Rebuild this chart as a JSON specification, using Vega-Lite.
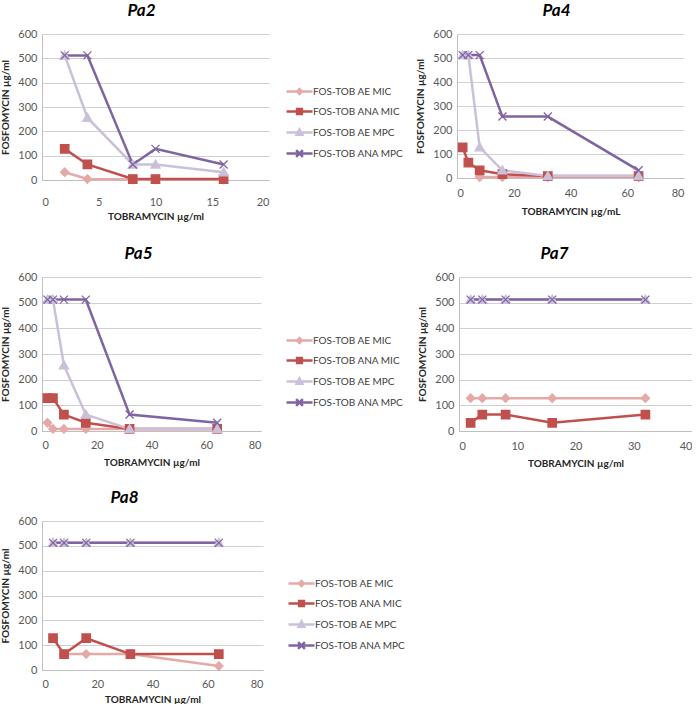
{
  "$schema": "https://vega.github.io/schema/vega-lite/v6.json",
  "padding": {"left": 0, "top": 2, "right": 0, "bottom": 0},
  "background": "white",
  "datasets": {
    "pa": [
      {"panel": "Pa2", "series": "FOS-TOB AE MIC", "tob": 2, "fos": 32},
      {"panel": "Pa2", "series": "FOS-TOB AE MIC", "tob": 4, "fos": 4},
      {"panel": "Pa2", "series": "FOS-TOB AE MIC", "tob": 8, "fos": 2},
      {"panel": "Pa2", "series": "FOS-TOB AE MIC", "tob": 10, "fos": 2},
      {"panel": "Pa2", "series": "FOS-TOB AE MIC", "tob": 16, "fos": 2},
      {"panel": "Pa2", "series": "FOS-TOB ANA MIC", "tob": 2, "fos": 128},
      {"panel": "Pa2", "series": "FOS-TOB ANA MIC", "tob": 4, "fos": 64},
      {"panel": "Pa2", "series": "FOS-TOB ANA MIC", "tob": 8, "fos": 4},
      {"panel": "Pa2", "series": "FOS-TOB ANA MIC", "tob": 10, "fos": 4},
      {"panel": "Pa2", "series": "FOS-TOB ANA MIC", "tob": 16, "fos": 4},
      {"panel": "Pa2", "series": "FOS-TOB AE MPC", "tob": 2, "fos": 512},
      {"panel": "Pa2", "series": "FOS-TOB AE MPC", "tob": 4, "fos": 256},
      {"panel": "Pa2", "series": "FOS-TOB AE MPC", "tob": 8, "fos": 64},
      {"panel": "Pa2", "series": "FOS-TOB AE MPC", "tob": 10, "fos": 64},
      {"panel": "Pa2", "series": "FOS-TOB AE MPC", "tob": 16, "fos": 32},
      {"panel": "Pa2", "series": "FOS-TOB ANA MPC", "tob": 2, "fos": 512},
      {"panel": "Pa2", "series": "FOS-TOB ANA MPC", "tob": 4, "fos": 512},
      {"panel": "Pa2", "series": "FOS-TOB ANA MPC", "tob": 8, "fos": 64},
      {"panel": "Pa2", "series": "FOS-TOB ANA MPC", "tob": 10, "fos": 128},
      {"panel": "Pa2", "series": "FOS-TOB ANA MPC", "tob": 16, "fos": 64},

      {"panel": "Pa4", "series": "FOS-TOB AE MIC", "tob": 8, "fos": 4},
      {"panel": "Pa4", "series": "FOS-TOB AE MIC", "tob": 16, "fos": 4},
      {"panel": "Pa4", "series": "FOS-TOB AE MIC", "tob": 32, "fos": 4},
      {"panel": "Pa4", "series": "FOS-TOB AE MIC", "tob": 64, "fos": 4},
      {"panel": "Pa4", "series": "FOS-TOB ANA MIC", "tob": 2, "fos": 128},
      {"panel": "Pa4", "series": "FOS-TOB ANA MIC", "tob": 4, "fos": 64},
      {"panel": "Pa4", "series": "FOS-TOB ANA MIC", "tob": 8, "fos": 32},
      {"panel": "Pa4", "series": "FOS-TOB ANA MIC", "tob": 16, "fos": 16},
      {"panel": "Pa4", "series": "FOS-TOB ANA MIC", "tob": 32, "fos": 8},
      {"panel": "Pa4", "series": "FOS-TOB ANA MIC", "tob": 64, "fos": 8},
      {"panel": "Pa4", "series": "FOS-TOB AE MPC", "tob": 2, "fos": 512},
      {"panel": "Pa4", "series": "FOS-TOB AE MPC", "tob": 4, "fos": 512},
      {"panel": "Pa4", "series": "FOS-TOB AE MPC", "tob": 8, "fos": 128},
      {"panel": "Pa4", "series": "FOS-TOB AE MPC", "tob": 16, "fos": 32},
      {"panel": "Pa4", "series": "FOS-TOB AE MPC", "tob": 32, "fos": 8},
      {"panel": "Pa4", "series": "FOS-TOB AE MPC", "tob": 64, "fos": 8},
      {"panel": "Pa4", "series": "FOS-TOB ANA MPC", "tob": 2, "fos": 512},
      {"panel": "Pa4", "series": "FOS-TOB ANA MPC", "tob": 4, "fos": 512},
      {"panel": "Pa4", "series": "FOS-TOB ANA MPC", "tob": 8, "fos": 512},
      {"panel": "Pa4", "series": "FOS-TOB ANA MPC", "tob": 16, "fos": 256},
      {"panel": "Pa4", "series": "FOS-TOB ANA MPC", "tob": 32, "fos": 256},
      {"panel": "Pa4", "series": "FOS-TOB ANA MPC", "tob": 64, "fos": 32},

      {"panel": "Pa5", "series": "FOS-TOB AE MIC", "tob": 2, "fos": 32},
      {"panel": "Pa5", "series": "FOS-TOB AE MIC", "tob": 4, "fos": 8},
      {"panel": "Pa5", "series": "FOS-TOB AE MIC", "tob": 8, "fos": 8},
      {"panel": "Pa5", "series": "FOS-TOB AE MIC", "tob": 16, "fos": 8},
      {"panel": "Pa5", "series": "FOS-TOB AE MIC", "tob": 32, "fos": 8},
      {"panel": "Pa5", "series": "FOS-TOB AE MIC", "tob": 64, "fos": 8},
      {"panel": "Pa5", "series": "FOS-TOB ANA MIC", "tob": 2, "fos": 128},
      {"panel": "Pa5", "series": "FOS-TOB ANA MIC", "tob": 4, "fos": 128},
      {"panel": "Pa5", "series": "FOS-TOB ANA MIC", "tob": 8, "fos": 64},
      {"panel": "Pa5", "series": "FOS-TOB ANA MIC", "tob": 16, "fos": 32},
      {"panel": "Pa5", "series": "FOS-TOB ANA MIC", "tob": 32, "fos": 8},
      {"panel": "Pa5", "series": "FOS-TOB ANA MIC", "tob": 64, "fos": 8},
      {"panel": "Pa5", "series": "FOS-TOB AE MPC", "tob": 2, "fos": 512},
      {"panel": "Pa5", "series": "FOS-TOB AE MPC", "tob": 4, "fos": 512},
      {"panel": "Pa5", "series": "FOS-TOB AE MPC", "tob": 8, "fos": 256},
      {"panel": "Pa5", "series": "FOS-TOB AE MPC", "tob": 16, "fos": 64},
      {"panel": "Pa5", "series": "FOS-TOB AE MPC", "tob": 32, "fos": 8},
      {"panel": "Pa5", "series": "FOS-TOB AE MPC", "tob": 64, "fos": 8},
      {"panel": "Pa5", "series": "FOS-TOB ANA MPC", "tob": 2, "fos": 512},
      {"panel": "Pa5", "series": "FOS-TOB ANA MPC", "tob": 4, "fos": 512},
      {"panel": "Pa5", "series": "FOS-TOB ANA MPC", "tob": 8, "fos": 512},
      {"panel": "Pa5", "series": "FOS-TOB ANA MPC", "tob": 16, "fos": 512},
      {"panel": "Pa5", "series": "FOS-TOB ANA MPC", "tob": 32, "fos": 64},
      {"panel": "Pa5", "series": "FOS-TOB ANA MPC", "tob": 64, "fos": 32},

      {"panel": "Pa7", "series": "FOS-TOB AE MIC", "tob": 2, "fos": 128},
      {"panel": "Pa7", "series": "FOS-TOB AE MIC", "tob": 4, "fos": 128},
      {"panel": "Pa7", "series": "FOS-TOB AE MIC", "tob": 8, "fos": 128},
      {"panel": "Pa7", "series": "FOS-TOB AE MIC", "tob": 16, "fos": 128},
      {"panel": "Pa7", "series": "FOS-TOB AE MIC", "tob": 32, "fos": 128},
      {"panel": "Pa7", "series": "FOS-TOB ANA MIC", "tob": 2, "fos": 32},
      {"panel": "Pa7", "series": "FOS-TOB ANA MIC", "tob": 4, "fos": 64},
      {"panel": "Pa7", "series": "FOS-TOB ANA MIC", "tob": 8, "fos": 64},
      {"panel": "Pa7", "series": "FOS-TOB ANA MIC", "tob": 16, "fos": 32},
      {"panel": "Pa7", "series": "FOS-TOB ANA MIC", "tob": 32, "fos": 64},
      {"panel": "Pa7", "series": "FOS-TOB AE MPC", "tob": 2, "fos": 512},
      {"panel": "Pa7", "series": "FOS-TOB AE MPC", "tob": 4, "fos": 512},
      {"panel": "Pa7", "series": "FOS-TOB AE MPC", "tob": 8, "fos": 512},
      {"panel": "Pa7", "series": "FOS-TOB AE MPC", "tob": 16, "fos": 512},
      {"panel": "Pa7", "series": "FOS-TOB AE MPC", "tob": 32, "fos": 512},
      {"panel": "Pa7", "series": "FOS-TOB ANA MPC", "tob": 2, "fos": 512},
      {"panel": "Pa7", "series": "FOS-TOB ANA MPC", "tob": 4, "fos": 512},
      {"panel": "Pa7", "series": "FOS-TOB ANA MPC", "tob": 8, "fos": 512},
      {"panel": "Pa7", "series": "FOS-TOB ANA MPC", "tob": 16, "fos": 512},
      {"panel": "Pa7", "series": "FOS-TOB ANA MPC", "tob": 32, "fos": 512},

      {"panel": "Pa8", "series": "FOS-TOB AE MIC", "tob": 8, "fos": 64},
      {"panel": "Pa8", "series": "FOS-TOB AE MIC", "tob": 16, "fos": 64},
      {"panel": "Pa8", "series": "FOS-TOB AE MIC", "tob": 32, "fos": 64},
      {"panel": "Pa8", "series": "FOS-TOB AE MIC", "tob": 64, "fos": 16},
      {"panel": "Pa8", "series": "FOS-TOB ANA MIC", "tob": 4, "fos": 128},
      {"panel": "Pa8", "series": "FOS-TOB ANA MIC", "tob": 8, "fos": 64},
      {"panel": "Pa8", "series": "FOS-TOB ANA MIC", "tob": 16, "fos": 128},
      {"panel": "Pa8", "series": "FOS-TOB ANA MIC", "tob": 32, "fos": 64},
      {"panel": "Pa8", "series": "FOS-TOB ANA MIC", "tob": 64, "fos": 64},
      {"panel": "Pa8", "series": "FOS-TOB AE MPC", "tob": 4, "fos": 512},
      {"panel": "Pa8", "series": "FOS-TOB AE MPC", "tob": 8, "fos": 512},
      {"panel": "Pa8", "series": "FOS-TOB AE MPC", "tob": 16, "fos": 512},
      {"panel": "Pa8", "series": "FOS-TOB AE MPC", "tob": 32, "fos": 512},
      {"panel": "Pa8", "series": "FOS-TOB AE MPC", "tob": 64, "fos": 512},
      {"panel": "Pa8", "series": "FOS-TOB ANA MPC", "tob": 4, "fos": 512},
      {"panel": "Pa8", "series": "FOS-TOB ANA MPC", "tob": 8, "fos": 512},
      {"panel": "Pa8", "series": "FOS-TOB ANA MPC", "tob": 16, "fos": 512},
      {"panel": "Pa8", "series": "FOS-TOB ANA MPC", "tob": 32, "fos": 512},
      {"panel": "Pa8", "series": "FOS-TOB ANA MPC", "tob": 64, "fos": 512}
    ]
  },
  "spacing": 24,
  "resolve": {"scale": {"color": "independent", "fill": "independent", "stroke": "independent", "shape": "independent", "x": "independent", "y": "independent"}, "legend": {"color": "independent"}},
  "vconcat": [
    {
      "spacing": 11,
      "resolve": {"scale": {"color": "independent", "fill": "independent", "stroke": "independent", "shape": "independent", "x": "independent", "y": "independent"}, "legend": {"color": "independent"}},
      "hconcat": [
        {
          "width": 227, "height": 146,
          "title": {"text": "Pa2", "dx": -14},
          "data": {"name": "pa"},
          "transform": [{"filter": "datum.panel === 'Pa2'"}],
          "encoding": {
            "x": {"field": "tob", "type": "quantitative", "scale": {"domain": [0, 20], "nice": false}, "axis": {"title": "TOBRAMYCIN µg/ml", "values": [0, 5, 10, 15, 20], "labelPadding": 16, "titlePadding": 4}},
            "y": {"field": "fos", "type": "quantitative", "scale": {"domain": [0, 600], "nice": false}, "axis": {"title": "FOSFOMYCIN µg/ml", "values": [0, 100, 200, 300, 400, 500, 600]}}
          },
          "layer": [
            {
              "mark": {"type": "line", "strokeWidth": 2.5},
              "encoding": {
                "color": {"field": "series", "type": "nominal", "scale": {"domain": ["FOS-TOB AE MIC", "FOS-TOB ANA MIC", "FOS-TOB AE MPC", "FOS-TOB ANA MPC"], "range": ["#e5a9a8", "#c0504d", "#cbc0da", "#8064a2"]},
                  "legend": {"title": " ", "titleFontSize": 11, "titlePadding": 22, "offset": 25, "symbolSize": 64, "symbolStrokeWidth": 2.5, "labelOffset": 8, "rowPadding": 5, "labelFontSize": 10, "labelColor": "#404040",
                    "encode": {"symbols": {"update": {
                      "shape": {"signal": "datum.value === 'FOS-TOB AE MIC' ? 'M-3.25,0H3.25M0,-0.6L0.6,0L0,0.6L-0.6,0Z' : datum.value === 'FOS-TOB ANA MIC' ? 'M-3.25,0H3.25M-0.6,-0.6H0.6V0.6H-0.6Z' : datum.value === 'FOS-TOB AE MPC' ? 'M-3.25,0H3.25M0,-0.75L0.7,0.55H-0.7Z' : 'M-3.25,0H3.25M-0.85,-0.85L0.85,0.85M-0.85,0.85L0.85,-0.85'"},
                      "fill": {"signal": "datum.value === 'FOS-TOB AE MIC' ? '#e5a9a8' : datum.value === 'FOS-TOB ANA MIC' ? '#c0504d' : datum.value === 'FOS-TOB AE MPC' ? '#cbc0da' : '#8064a2'"},
                      "strokeWidth": {"value": 2.5},
                      "opacity": {"value": 1}
                    }}}
                  }
                }
              }
            },
            {
              "mark": {"type": "point", "filled": true, "opacity": 1, "size": 64, "strokeWidth": 1.3},
              "encoding": {
                "fill": {"field": "series", "type": "nominal", "scale": {"domain": ["FOS-TOB ANA MPC", "FOS-TOB AE MPC", "FOS-TOB ANA MIC", "FOS-TOB AE MIC"], "range": ["#8064a2", "#cbc0da", "#c0504d", "#e5a9a8"]}, "legend": null},
                "stroke": {"field": "series", "type": "nominal", "scale": {"domain": ["FOS-TOB ANA MPC", "FOS-TOB AE MPC", "FOS-TOB ANA MIC", "FOS-TOB AE MIC"], "range": ["#8064a2", "#cbc0da", "#c0504d", "#e5a9a8"]}, "legend": null},
                "shape": {"field": "series", "type": "nominal", "scale": {"domain": ["FOS-TOB ANA MPC", "FOS-TOB AE MPC", "FOS-TOB ANA MIC", "FOS-TOB AE MIC"], "range": ["M-1,-1L1,1M-1,1L1,-1", "M0,-1.1L1.15,0.9H-1.15Z", "M-1.05,-1.05H1.05V1.05H-1.05Z", "M0,-1.05L1.05,0L0,1.05L-1.05,0Z"]}, "legend": null}
              }
            }
          ]
        },
        {
          "width": 227, "height": 144,
          "title": {"text": "Pa4", "dx": -14},
          "data": {"name": "pa"},
          "transform": [{"filter": "datum.panel === 'Pa4'"}],
          "encoding": {
            "x": {"field": "tob", "type": "quantitative", "scale": {"domain": [0, 80], "nice": false}, "axis": {"title": "TOBRAMYCIN  µg/mL", "values": [0, 20, 40, 60, 80], "labelPadding": 9, "titlePadding": 8}},
            "y": {"field": "fos", "type": "quantitative", "scale": {"domain": [0, 600], "nice": false}, "axis": {"title": "FOSFOMYCIN  µg/ml", "values": [0, 100, 200, 300, 400, 500, 600]}}
          },
          "layer": [
            {
              "mark": {"type": "line", "strokeWidth": 2.5},
              "encoding": {
                "color": {"field": "series", "type": "nominal", "scale": {"domain": ["FOS-TOB AE MIC", "FOS-TOB ANA MIC", "FOS-TOB AE MPC", "FOS-TOB ANA MPC"], "range": ["#e5a9a8", "#c0504d", "#cbc0da", "#8064a2"]}, "legend": null}
              }
            },
            {
              "mark": {"type": "point", "filled": true, "opacity": 1, "size": 64, "strokeWidth": 1.3},
              "encoding": {
                "fill": {"field": "series", "type": "nominal", "scale": {"domain": ["FOS-TOB ANA MPC", "FOS-TOB AE MPC", "FOS-TOB ANA MIC", "FOS-TOB AE MIC"], "range": ["#8064a2", "#cbc0da", "#c0504d", "#e5a9a8"]}, "legend": null},
                "stroke": {"field": "series", "type": "nominal", "scale": {"domain": ["FOS-TOB ANA MPC", "FOS-TOB AE MPC", "FOS-TOB ANA MIC", "FOS-TOB AE MIC"], "range": ["#8064a2", "#cbc0da", "#c0504d", "#e5a9a8"]}, "legend": null},
                "shape": {"field": "series", "type": "nominal", "scale": {"domain": ["FOS-TOB ANA MPC", "FOS-TOB AE MPC", "FOS-TOB ANA MIC", "FOS-TOB AE MIC"], "range": ["M-1,-1L1,1M-1,1L1,-1", "M0,-1.1L1.15,0.9H-1.15Z", "M-1.05,-1.05H1.05V1.05H-1.05Z", "M0,-1.05L1.05,0L0,1.05L-1.05,0Z"]}, "legend": null}
              }
            }
          ]
        }
      ]
    },
    {
      "spacing": 21,
      "resolve": {"scale": {"color": "independent", "fill": "independent", "stroke": "independent", "shape": "independent", "x": "independent", "y": "independent"}, "legend": {"color": "independent"}},
      "vconcat": [
        {
          "spacing": 13,
          "resolve": {"scale": {"color": "independent", "fill": "independent", "stroke": "independent", "shape": "independent", "x": "independent", "y": "independent"}, "legend": {"color": "independent"}},
          "hconcat": [
            {
              "width": 219, "height": 154,
              "title": {"text": "Pa5", "dx": -13},
              "data": {"name": "pa"},
              "transform": [{"filter": "datum.panel === 'Pa5'"}],
              "encoding": {
                "x": {"field": "tob", "type": "quantitative", "scale": {"domain": [0, 80], "nice": false}, "axis": {"title": "TOBRAMYCIN µg/ml", "values": [0, 20, 40, 60, 80], "labelPadding": 8, "titlePadding": 7}},
                "y": {"field": "fos", "type": "quantitative", "scale": {"domain": [0, 600], "nice": false}, "axis": {"title": "FOSFOMYCIN µg/ml", "values": [0, 100, 200, 300, 400, 500, 600]}}
              },
              "layer": [
                {
                  "mark": {"type": "line", "strokeWidth": 2.5},
                  "encoding": {
                    "color": {"field": "series", "type": "nominal", "scale": {"domain": ["FOS-TOB AE MIC", "FOS-TOB ANA MIC", "FOS-TOB AE MPC", "FOS-TOB ANA MPC"], "range": ["#e5a9a8", "#c0504d", "#cbc0da", "#8064a2"]},
                      "legend": {"title": " ", "titleFontSize": 11, "titlePadding": 26, "offset": 33, "symbolSize": 64, "symbolStrokeWidth": 2.5, "labelOffset": 8, "rowPadding": 5, "labelFontSize": 10, "labelColor": "#404040",
                        "encode": {"symbols": {"update": {
                          "shape": {"signal": "datum.value === 'FOS-TOB AE MIC' ? 'M-3.25,0H3.25M0,-0.6L0.6,0L0,0.6L-0.6,0Z' : datum.value === 'FOS-TOB ANA MIC' ? 'M-3.25,0H3.25M-0.6,-0.6H0.6V0.6H-0.6Z' : datum.value === 'FOS-TOB AE MPC' ? 'M-3.25,0H3.25M0,-0.75L0.7,0.55H-0.7Z' : 'M-3.25,0H3.25M-0.85,-0.85L0.85,0.85M-0.85,0.85L0.85,-0.85'"},
                          "fill": {"signal": "datum.value === 'FOS-TOB AE MIC' ? '#e5a9a8' : datum.value === 'FOS-TOB ANA MIC' ? '#c0504d' : datum.value === 'FOS-TOB AE MPC' ? '#cbc0da' : '#8064a2'"},
                          "strokeWidth": {"value": 2.5},
                          "opacity": {"value": 1}
                        }}}
                      }
                    }
                  }
                },
                {
                  "mark": {"type": "point", "filled": true, "opacity": 1, "size": 64, "strokeWidth": 1.3},
                  "encoding": {
                    "fill": {"field": "series", "type": "nominal", "scale": {"domain": ["FOS-TOB ANA MPC", "FOS-TOB AE MPC", "FOS-TOB ANA MIC", "FOS-TOB AE MIC"], "range": ["#8064a2", "#cbc0da", "#c0504d", "#e5a9a8"]}, "legend": null},
                    "stroke": {"field": "series", "type": "nominal", "scale": {"domain": ["FOS-TOB ANA MPC", "FOS-TOB AE MPC", "FOS-TOB ANA MIC", "FOS-TOB AE MIC"], "range": ["#8064a2", "#cbc0da", "#c0504d", "#e5a9a8"]}, "legend": null},
                    "shape": {"field": "series", "type": "nominal", "scale": {"domain": ["FOS-TOB ANA MPC", "FOS-TOB AE MPC", "FOS-TOB ANA MIC", "FOS-TOB AE MIC"], "range": ["M-1,-1L1,1M-1,1L1,-1", "M0,-1.1L1.15,0.9H-1.15Z", "M-1.05,-1.05H1.05V1.05H-1.05Z", "M0,-1.05L1.05,0L0,1.05L-1.05,0Z"]}, "legend": null}
                  }
                }
              ]
            },
            {
              "width": 233, "height": 154,
              "title": {"text": "Pa7", "dx": -21},
              "data": {"name": "pa"},
              "transform": [{"filter": "datum.panel === 'Pa7'"}],
              "encoding": {
                "x": {"field": "tob", "type": "quantitative", "scale": {"domain": [0, 40], "nice": false}, "axis": {"title": "TOBRAMYCIN µg/ml", "values": [0, 10, 20, 30, 40], "labelPadding": 9, "titlePadding": 7}},
                "y": {"field": "fos", "type": "quantitative", "scale": {"domain": [0, 600], "nice": false}, "axis": {"title": "FOSFOMYCIN  µg/ml", "values": [0, 100, 200, 300, 400, 500, 600]}}
              },
              "layer": [
                {
                  "mark": {"type": "line", "strokeWidth": 2.5},
                  "encoding": {
                    "color": {"field": "series", "type": "nominal", "scale": {"domain": ["FOS-TOB AE MIC", "FOS-TOB ANA MIC", "FOS-TOB AE MPC", "FOS-TOB ANA MPC"], "range": ["#e5a9a8", "#c0504d", "#cbc0da", "#8064a2"]}, "legend": null}
                  }
                },
                {
                  "mark": {"type": "point", "filled": true, "opacity": 1, "size": 64, "strokeWidth": 1.3},
                  "encoding": {
                    "fill": {"field": "series", "type": "nominal", "scale": {"domain": ["FOS-TOB ANA MPC", "FOS-TOB AE MPC", "FOS-TOB ANA MIC", "FOS-TOB AE MIC"], "range": ["#8064a2", "#cbc0da", "#c0504d", "#e5a9a8"]}, "legend": null},
                    "stroke": {"field": "series", "type": "nominal", "scale": {"domain": ["FOS-TOB ANA MPC", "FOS-TOB AE MPC", "FOS-TOB ANA MIC", "FOS-TOB AE MIC"], "range": ["#8064a2", "#cbc0da", "#c0504d", "#e5a9a8"]}, "legend": null},
                    "shape": {"field": "series", "type": "nominal", "scale": {"domain": ["FOS-TOB ANA MPC", "FOS-TOB AE MPC", "FOS-TOB ANA MIC", "FOS-TOB AE MIC"], "range": ["M-1,-1L1,1M-1,1L1,-1", "M0,-1.1L1.15,0.9H-1.15Z", "M-1.05,-1.05H1.05V1.05H-1.05Z", "M0,-1.05L1.05,0L0,1.05L-1.05,0Z"]}, "legend": null}
                  }
                }
              ]
            }
          ]
        },
        {
          "width": 221, "height": 149,
          "title": {"text": "Pa8", "dx": -28},
          "data": {"name": "pa"},
          "transform": [{"filter": "datum.panel === 'Pa8'"}],
          "encoding": {
            "x": {"field": "tob", "type": "quantitative", "scale": {"domain": [0, 80], "nice": false}, "axis": {"title": "TOBRAMYCIN µg/ml", "values": [0, 20, 40, 60, 80], "labelPadding": 8, "titlePadding": 5}},
            "y": {"field": "fos", "type": "quantitative", "scale": {"domain": [0, 600], "nice": false}, "axis": {"title": "FOSFOMYCIN µg/ml", "values": [0, 100, 200, 300, 400, 500, 600]}}
          },
          "layer": [
            {
              "mark": {"type": "line", "strokeWidth": 2.5},
              "encoding": {
                "color": {"field": "series", "type": "nominal", "scale": {"domain": ["FOS-TOB AE MIC", "FOS-TOB ANA MIC", "FOS-TOB AE MPC", "FOS-TOB ANA MPC"], "range": ["#e5a9a8", "#c0504d", "#cbc0da", "#8064a2"]},
                  "legend": {"title": " ", "titleFontSize": 11, "titlePadding": 30, "offset": 33, "symbolSize": 64, "symbolStrokeWidth": 2.5, "labelOffset": 8, "rowPadding": 5, "labelFontSize": 10, "labelColor": "#404040",
                    "encode": {"symbols": {"update": {
                      "shape": {"signal": "datum.value === 'FOS-TOB AE MIC' ? 'M-3.25,0H3.25M0,-0.6L0.6,0L0,0.6L-0.6,0Z' : datum.value === 'FOS-TOB ANA MIC' ? 'M-3.25,0H3.25M-0.6,-0.6H0.6V0.6H-0.6Z' : datum.value === 'FOS-TOB AE MPC' ? 'M-3.25,0H3.25M0,-0.75L0.7,0.55H-0.7Z' : 'M-3.25,0H3.25M-0.85,-0.85L0.85,0.85M-0.85,0.85L0.85,-0.85'"},
                      "fill": {"signal": "datum.value === 'FOS-TOB AE MIC' ? '#e5a9a8' : datum.value === 'FOS-TOB ANA MIC' ? '#c0504d' : datum.value === 'FOS-TOB AE MPC' ? '#cbc0da' : '#8064a2'"},
                      "strokeWidth": {"value": 2.5},
                      "opacity": {"value": 1}
                    }}}
                  }
                }
              }
            },
            {
              "mark": {"type": "point", "filled": true, "opacity": 1, "size": 64, "strokeWidth": 1.3},
              "encoding": {
                "fill": {"field": "series", "type": "nominal", "scale": {"domain": ["FOS-TOB ANA MPC", "FOS-TOB AE MPC", "FOS-TOB ANA MIC", "FOS-TOB AE MIC"], "range": ["#8064a2", "#cbc0da", "#c0504d", "#e5a9a8"]}, "legend": null},
                "stroke": {"field": "series", "type": "nominal", "scale": {"domain": ["FOS-TOB ANA MPC", "FOS-TOB AE MPC", "FOS-TOB ANA MIC", "FOS-TOB AE MIC"], "range": ["#8064a2", "#cbc0da", "#c0504d", "#e5a9a8"]}, "legend": null},
                "shape": {"field": "series", "type": "nominal", "scale": {"domain": ["FOS-TOB ANA MPC", "FOS-TOB AE MPC", "FOS-TOB ANA MIC", "FOS-TOB AE MIC"], "range": ["M-1,-1L1,1M-1,1L1,-1", "M0,-1.1L1.15,0.9H-1.15Z", "M-1.05,-1.05H1.05V1.05H-1.05Z", "M0,-1.05L1.05,0L0,1.05L-1.05,0Z"]}, "legend": null}
              }
            }
          ]
        }
      ]
    }
  ],
  "config": {
    "font": "Lato",
    "view": {"stroke": null},
    "title": {"fontSize": 17, "fontStyle": "italic", "fontWeight": "bold", "color": "#000000", "offset": 8, "anchor": "middle"},
    "axis": {"domainColor": "#bfbfbf", "domainWidth": 1, "gridColor": "#d0d0d0", "gridWidth": 1, "ticks": false, "labelColor": "#595959", "labelFontSize": 11, "labelFont": "Lato", "titleFontSize": 10, "titleFontWeight": "bold", "titleColor": "#262626", "labelPadding": 5},
    "axisX": {"grid": false},
    "axisY": {"grid": true, "titlePadding": 7},
    "legend": {"layout": {"right": {"anchor": "middle"}}}
  }
}
